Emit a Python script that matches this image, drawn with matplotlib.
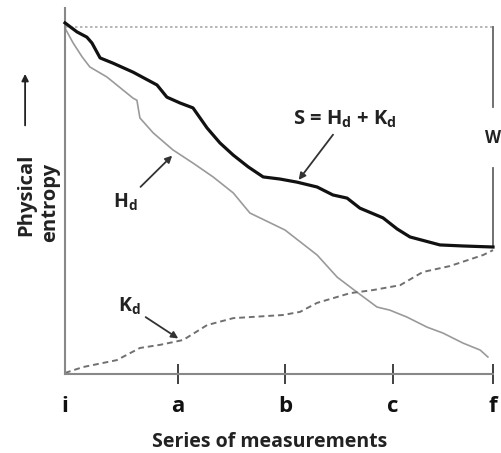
import matplotlib.pyplot as plt
from matplotlib.patches import FancyArrowPatch

# x: measurement position (0 = i, 100 = f); y: physical entropy (100 = initial level)
s_x = [0, 2.8, 5.1, 6.3, 8.2, 11.2, 15.9, 21.5, 23.8, 26.9, 29.9, 33.2, 36.2, 39.3,
       42.8, 46.3, 50.2, 54.2, 58.9, 62.6, 65.9, 68.9, 74.3, 77.6, 80.6, 87.6, 93.0, 100]
s_y = [101.2, 98.6, 97.1, 95.4, 91.1, 89.6, 87.0, 83.3, 79.8, 78.1, 76.7, 70.9, 66.6, 63.1,
       59.7, 56.8, 56.2, 55.3, 53.9, 51.6, 50.7, 47.8, 45.0, 41.8, 39.5, 37.2, 36.9, 36.6]

h_x = [0, 1.9, 4.0, 5.8, 9.8, 13.6, 15.9, 16.8, 17.5, 20.6, 25.2, 29.9, 34.6, 39.3,
       43.2, 51.4, 58.9, 63.6, 68.2, 72.9, 75.9, 79.9, 84.6, 88.3, 93.0, 97.0, 98.8]
h_y = [99.7, 95.4, 91.4, 88.5, 85.6, 81.8, 79.5, 78.9, 73.8, 69.5, 64.6, 60.8, 56.8, 52.2,
       46.4, 41.5, 34.3, 27.9, 23.6, 19.3, 18.4, 16.4, 13.5, 11.8, 8.9, 6.9, 4.9]

k_x = [0, 4.2, 12.1, 17.5, 22.2, 27.6, 33.2, 39.3, 43.2, 50.9, 54.9, 58.9, 66.6,
       72.0, 78.3, 83.6, 89.9, 97.7, 100]
k_y = [0.3, 2.0, 4.0, 7.5, 8.4, 9.8, 14.1, 16.1, 16.4, 17.0, 17.9, 20.5, 23.3,
       24.2, 25.6, 29.4, 31.1, 34.3, 35.7]

tick_pos = [0, 26.4, 51.4, 76.6, 100]
tick_labels = ["i", "a", "b", "c", "f"]

top_level = 100
w_gap = (59.4, 76.9)

FONT = "Open Sans"
TXT = "#222222"

fig = plt.figure(figsize=(5.02, 4.53), dpi=100)
ax = fig.add_axes([0.1295, 0.1744, 0.8526, 0.808])

ax.plot(h_x, h_y, color="#9a9a9a", lw=1.2, clip_on=False, zorder=2)
ax.plot(k_x, k_y, color="#707070", lw=1.4, ls=(0, (3, 2)), clip_on=False, zorder=2)
ax.plot(s_x, s_y, color="#111111", lw=2.3, clip_on=False, zorder=3)

# reference line at the starting entropy
ax.plot([0, 100], [top_level, top_level], color="#aaaaaa", lw=1.2,
        ls=(0, (1.5, 1.5)), clip_on=False)

# W bracket on the right
ax.plot([100, 100], [top_level, w_gap[1]], color="#666666", lw=1.3, clip_on=False)
ax.plot([100, 100], [w_gap[0], s_y[-1]], color="#666666", lw=1.3, clip_on=False)
ax.text(99.9, (w_gap[0] + w_gap[1]) / 2, "W", ha="center", va="center",
        fontsize=12, fontweight="bold", family=FONT, color=TXT, clip_on=False)

ax.set_xlim(0, 100)
ax.set_ylim(0, 105.5)

ax.spines[["top", "right"]].set_visible(False)
ax.spines[["left", "bottom"]].set_color("#888888")
ax.spines[["left", "bottom"]].set_linewidth(1.5)

ax.set_yticks([])
ax.set_xticks(tick_pos[1:])
ax.set_xticklabels([])
ax.tick_params(axis="x", direction="inout", length=14, width=1.3, color="#333333")

for pos, lab in zip(tick_pos, tick_labels):
    ax.text(pos, -9.5, lab, ha="center", va="center", fontsize=16,
            fontweight="bold", family=FONT, color="#111111", clip_on=False)

ax.text(47.9, -19.5, "Series of measurements", ha="center", va="center", fontsize=14,
        fontweight="bold", family=FONT, color=TXT, clip_on=False)

# curve labels with arrows
arrow = dict(arrowstyle="-|>", color="#333333", lw=1.3, mutation_scale=10)
ax.annotate(r"S = H$_\mathregular{d}$ + K$_\mathregular{d}$", xy=(54.2, 55.3),
            xytext=(65.4, 73.5), ha="center", va="center", fontsize=14.5,
            fontweight="bold", family=FONT, color=TXT, arrowprops=arrow)
ax.annotate(r"H$_\mathregular{d}$", xy=(25.5, 63.5), xytext=(14.0, 49.5),
            ha="center", va="center", fontsize=14, fontweight="bold",
            family=FONT, color=TXT, arrowprops=arrow)
ax.annotate(r"K$_\mathregular{d}$", xy=(27.0, 9.8), xytext=(15.0, 19.5),
            ha="center", va="center", fontsize=14, fontweight="bold",
            family=FONT, color=TXT, arrowprops=arrow)

# y label with upward arrow
fig.text(0.052, 0.57, "Physical", rotation=90, ha="center", va="center",
         fontsize=14.5, fontweight="bold", family=FONT, color=TXT)
fig.text(0.100, 0.553, "entropy", rotation=90, ha="center", va="center",
         fontsize=14.5, fontweight="bold", family=FONT, color=TXT)
fig.patches.append(FancyArrowPatch(
    (0.05, 0.717), (0.05, 0.843), transform=fig.transFigure,
    arrowstyle="-|>", mutation_scale=10, color=TXT, lw=1.3))

fig.savefig("out.png", dpi=100)
